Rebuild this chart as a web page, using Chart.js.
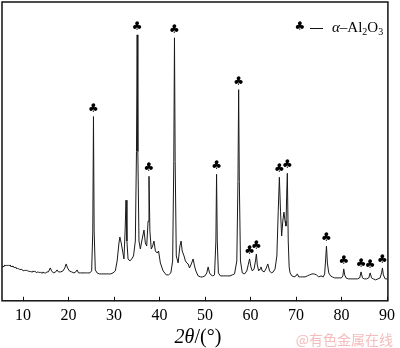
<!DOCTYPE html>
<html>
<head>
<meta charset="utf-8">
<script src="https://cdn.jsdelivr.net/npm/chart.js@4.4.1/dist/chart.umd.min.js"></script>
<style>
  html, body { margin: 0; padding: 0; background: #fff; }
  canvas { display: block; }
</style>
</head>
<body>
<canvas id="xrd" width="400" height="348"></canvas>
<script>
// 2theta (deg) and intensity (arb. units)
const twoTheta = [
	5.4, 5.6, 5.8, 6.0, 6.2, 6.4, 6.6, 6.8, 7.0, 7.2, 7.4, 7.6, 7.8, 8.0, 8.2, 8.4, 8.6, 8.8, 9.0, 9.2,
	9.4, 9.6, 9.8, 10.0, 10.2, 10.4, 10.6, 10.8, 11.0, 11.2, 11.4, 11.6, 11.8, 12.0, 12.2, 12.4, 12.6, 12.8, 13.0, 13.2,
	13.4, 13.6, 13.8, 14.0, 14.2, 14.4, 14.6, 14.8, 15.0, 15.3, 15.6,
	16.0, 16.3, 16.7, 17.2, 17.5, 17.8, 18.3, 18.8, 19.2, 19.5, 19.8, 20.2, 20.7, 21.2, 21.6, 21.9, 22.2,
	22.7, 23.2, 23.7, 24.2, 24.7, 25.1, 25.35, 25.5, 25.65, 25.9, 26.3, 26.8, 27.3, 27.8, 28.3, 28.8, 29.3, 29.8, 30.3, 30.7,
	31.1, 31.3, 31.6, 31.9, 32.2, 32.45, 32.65, 32.85, 33.1, 33.5, 33.9, 34.3, 34.7, 34.95, 35.1, 35.25, 35.5, 35.8, 36.2, 36.6,
	36.9, 37.2, 37.5, 37.7, 37.9, 38.2, 38.5, 38.8, 39.1, 39.5, 39.8, 40.2, 40.8, 41.5, 42.0, 42.5, 42.9, 43.15, 43.3, 43.45,
	43.7, 44.1, 44.5, 44.75, 45.0, 45.4, 45.7, 46.0, 46.3, 46.6, 47.0, 47.4, 47.7, 48.0, 48.5, 49.0, 49.5, 50.0, 50.4, 50.7,
	51.0, 51.3, 51.7, 52.1, 52.4, 52.55, 52.7, 52.95, 53.4, 54.0, 54.5, 55.0, 55.5, 56.0, 56.5, 57.0, 57.25, 57.4, 57.55, 57.8,
	58.2, 58.7, 59.2, 59.5, 59.8, 60.1, 60.4, 60.8, 61.1, 61.3, 61.5, 61.8, 62.1, 62.3, 62.6, 63.0, 63.4, 63.8, 64.2, 64.6,
	65.0, 65.4, 65.8, 66.1, 66.35, 66.6, 66.85, 67.1, 67.35, 67.6, 67.8, 67.95, 68.1, 68.3, 68.5, 68.7, 69.1, 69.6, 70.0, 70.3, 70.6,
	71.0, 71.5, 72.0, 72.5, 73.0, 73.5, 74.0, 74.5, 75.0, 75.5, 76.0, 76.3, 76.5, 76.7, 76.9, 77.2, 77.6, 78.0, 78.5, 79.0,
	79.5, 80.0, 80.3, 80.5, 80.7, 81.0, 81.5, 82.0, 82.5, 83.0, 83.5, 84.0, 84.3, 84.6, 85.0, 85.5, 86.0, 86.3, 86.6, 87.0,
	87.5, 88.0, 88.5, 88.8, 89.0, 89.2, 89.6, 90.0
];
const intensity = [
	34, 35, 34, 36, 35, 36, 35, 36, 35, 36, 34, 35, 34, 34, 33, 34, 32, 33, 32, 32,
	31, 32, 31, 31, 30, 31, 30, 31, 30, 30, 29, 30, 29, 29, 30, 29, 30, 29, 28, 29,
	29, 28, 29, 28, 28, 29, 28, 28, 28, 29, 29,
	33, 30, 28, 29, 31, 29, 29, 30, 33, 37, 33, 30, 29, 28, 29, 31, 28,
	28, 28, 28, 28, 28, 30, 70, 185, 70, 31, 28, 27, 27, 27, 27, 27, 27, 28, 30, 40,
	58, 64, 58, 50, 42, 70, 101, 60, 42, 40, 42, 45, 60, 150, 267, 150, 60, 52, 62, 71,
	58, 55, 80, 125, 70, 52, 55, 60, 50, 48, 50, 38, 30, 26, 26, 28, 40, 140, 264, 140,
	45, 38, 55, 60, 50, 45, 40, 38, 37, 33, 37, 42, 35, 30, 25, 24, 24, 25, 28, 34,
	28, 26, 25, 26, 60, 127, 60, 28, 25, 25, 25, 25, 25, 26, 27, 40, 120, 212, 120, 40,
	28, 27, 30, 36, 42, 34, 30, 32, 40, 47, 36, 30, 32, 34, 30, 29, 32, 37, 30, 28,
	29, 32, 45, 90, 124, 90, 65, 80, 89, 80, 75, 105, 128, 60, 34, 28, 25, 24, 25, 27, 24,
	24, 24, 24, 25, 26, 27, 27, 26, 24, 25, 24, 27, 40, 55, 38, 28, 25, 24, 23, 23,
	23, 23, 25, 32, 26, 23, 22, 22, 22, 22, 22, 23, 29, 23, 22, 22, 23, 28, 23, 22,
	21, 22, 23, 28, 33, 26, 22, 22
];
// alpha-Al2O3 reflections marked with a club
const alumina = [25.5, 35.1, 37.7, 43.3, 52.55, 57.4, 59.8, 61.3, 66.35, 68.1, 76.7, 80.5, 84.3, 86.3, 89.0];
const xTicks = [10, 20, 30, 40, 50, 60, 70, 80, 90];

const serif = '"Liberation Serif", "Times New Roman", serif';

const decor = {
	id: 'decor',
	afterDatasetsDraw(chart) {
		const ctx = chart.ctx;
		const a = chart.chartArea;
		const xs = chart.scales.x;
		const ys = chart.scales.y;
		ctx.save();

		// frame
		ctx.strokeStyle = '#111';
		ctx.lineWidth = 1.5;
		ctx.strokeRect(a.left, a.top, a.right - a.left, a.bottom - a.top);

		// inward ticks
		ctx.lineWidth = 1;
		ctx.beginPath();
		xTicks.forEach(t => {
			const px = Math.round(xs.getPixelForValue(t)) + 0.5;
			ctx.moveTo(px, a.bottom);
			ctx.lineTo(px, a.bottom - 4);
		});
		ctx.stroke();

		// club markers above the peaks
		ctx.fillStyle = '#000';
		ctx.font = '12px "DejaVu Sans"';
		ctx.textAlign = 'center';
		ctx.textBaseline = 'middle';
		alumina.forEach(p => {
			let best = 0;
			twoTheta.forEach((t, i) => {
				if (Math.abs(t - p) < Math.abs(twoTheta[best] - p)) best = i;
			});
			const px = xs.getPixelForValue(p);
			const py = ys.getPixelForValue(intensity[best]) - 8;
			ctx.fillText('\u2663', px, py);
		});

		// legend
		ctx.fillText('\u2663', 300, 27);
		ctx.beginPath();
		ctx.moveTo(310, 28.5);
		ctx.lineTo(323, 28.5);
		ctx.stroke();
		ctx.textAlign = 'left';
		ctx.textBaseline = 'alphabetic';
		let x = 332;
		ctx.font = 'italic 15px ' + serif;
		ctx.fillText('\u03b1', x, 32);
		x += ctx.measureText('\u03b1').width;
		ctx.font = '15px ' + serif;
		ctx.fillText('\u2013Al', x, 32);
		x += ctx.measureText('\u2013Al').width;
		ctx.font = '10px ' + serif;
		ctx.fillText('2', x, 35);
		x += ctx.measureText('2').width;
		ctx.font = '15px ' + serif;
		ctx.fillText('O', x, 32);
		x += ctx.measureText('O').width;
		ctx.font = '10px ' + serif;
		ctx.fillText('3', x, 35);

		// axis title 2θ/(°)
		const parts = [['italic 20px ' + serif, '2\u03b8'], ['20px ' + serif, '/(\u00b0)']];
		let w = 0;
		parts.forEach(p => { ctx.font = p[0]; w += ctx.measureText(p[1]).width; });
		x = (a.left + a.right) / 2 - w / 2 + 3;
		parts.forEach(p => {
			ctx.font = p[0];
			ctx.fillText(p[1], x, 343);
			x += ctx.measureText(p[1]).width;
		});

		// watermark
		ctx.fillStyle = '#f4bcbc';
		ctx.font = '14px "Noto Sans CJK SC"';
		ctx.textAlign = 'right';
		ctx.fillText('@有色金属在线', 393, 345);
		ctx.restore();
	}
};

new Chart(document.getElementById('xrd'), {
	type: 'line',
	data: {
		datasets: [{
			data: twoTheta.map((t, i) => ({ x: t, y: intensity[i] })),
			borderColor: '#1a1a1a',
			borderWidth: 1,
			pointRadius: 0,
			tension: 0,
			fill: false
		}]
	},
	options: {
		responsive: false,
		animation: false,
		layout: { padding: { left: 2, top: 2, right: 1, bottom: 18 } },
		plugins: {
			legend: { display: false },
			tooltip: { enabled: false }
		},
		scales: {
			x: {
				type: 'linear',
				min: 5.4,
				max: 90.2,
				afterBuildTicks: scale => { scale.ticks = xTicks.map(v => ({ value: v })); },
				grid: { display: false, drawTicks: false },
				border: { display: false },
				ticks: {
					padding: 5,
					color: '#000',
					font: { family: serif, size: 16 },
					maxRotation: 0
				}
			},
			y: {
				display: false,
				min: 0,
				max: 300
			}
		}
	},
	plugins: [decor]
});
</script>
</body>
</html>
